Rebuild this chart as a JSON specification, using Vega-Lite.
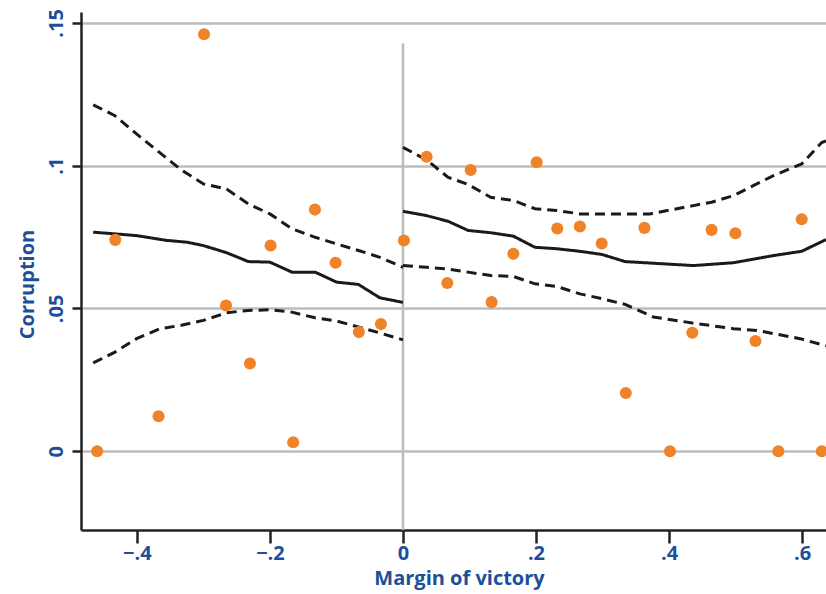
{
  "$schema": "https://vega.github.io/schema/vega-lite/v6.json",
  "width": 745,
  "height": 518,
  "autosize": "none",
  "padding": {"left": 81, "top": 12, "right": 0, "bottom": 64},
  "background": "white",
  "config": {
    "view": {"stroke": null},
    "font": "Open Sans"
  },
  "datasets": {
    "pts": [
      {"margin": -0.4597, "corruption": 0.0},
      {"margin": -0.4325, "corruption": 0.0740},
      {"margin": -0.3674, "corruption": 0.0122},
      {"margin": -0.299, "corruption": 0.146},
      {"margin": -0.266, "corruption": 0.0510},
      {"margin": -0.230, "corruption": 0.0307},
      {"margin": -0.199, "corruption": 0.0720},
      {"margin": -0.165, "corruption": 0.0031},
      {"margin": -0.1323, "corruption": 0.0846},
      {"margin": -0.1012, "corruption": 0.0660},
      {"margin": -0.0662, "corruption": 0.0417},
      {"margin": -0.0331, "corruption": 0.0445},
      {"margin": 0.0015, "corruption": 0.0738},
      {"margin": 0.0356, "corruption": 0.1031},
      {"margin": 0.0667, "corruption": 0.0589},
      {"margin": 0.1018, "corruption": 0.0985},
      {"margin": 0.1333, "corruption": 0.0522},
      {"margin": 0.166, "corruption": 0.0691},
      {"margin": 0.201, "corruption": 0.1012},
      {"margin": 0.232, "corruption": 0.0780},
      {"margin": 0.266, "corruption": 0.0787},
      {"margin": 0.2988, "corruption": 0.0727},
      {"margin": 0.335, "corruption": 0.0204},
      {"margin": 0.363, "corruption": 0.0782},
      {"margin": 0.4015, "corruption": 0.0},
      {"margin": 0.435, "corruption": 0.0415},
      {"margin": 0.464, "corruption": 0.0775},
      {"margin": 0.4998, "corruption": 0.0763},
      {"margin": 0.530, "corruption": 0.0386},
      {"margin": 0.5644, "corruption": 0.0},
      {"margin": 0.5995, "corruption": 0.0812},
      {"margin": 0.6296, "corruption": 0.0}
    ],
    "lines": [
      {"series": "fitL", "kind": "fit", "margin": -0.4657, "value": 0.0767},
      {"series": "fitL", "kind": "fit", "margin": -0.4005, "value": 0.0755},
      {"series": "fitL", "kind": "fit", "margin": -0.355, "value": 0.0738},
      {"series": "fitL", "kind": "fit", "margin": -0.325, "value": 0.0732},
      {"series": "fitL", "kind": "fit", "margin": -0.300, "value": 0.0720},
      {"series": "fitL", "kind": "fit", "margin": -0.265, "value": 0.0695},
      {"series": "fitL", "kind": "fit", "margin": -0.2326, "value": 0.0664},
      {"series": "fitL", "kind": "fit", "margin": -0.200, "value": 0.0662},
      {"series": "fitL", "kind": "fit", "margin": -0.167, "value": 0.0627},
      {"series": "fitL", "kind": "fit", "margin": -0.132, "value": 0.0627},
      {"series": "fitL", "kind": "fit", "margin": -0.0997, "value": 0.0592},
      {"series": "fitL", "kind": "fit", "margin": -0.067, "value": 0.0584},
      {"series": "fitL", "kind": "fit", "margin": -0.0346, "value": 0.0537},
      {"series": "fitL", "kind": "fit", "margin": 0.0, "value": 0.0521},

      {"series": "upL", "kind": "ci", "margin": -0.4657, "value": 0.1213},
      {"series": "upL", "kind": "ci", "margin": -0.433, "value": 0.1175},
      {"series": "upL", "kind": "ci", "margin": -0.4005, "value": 0.1111},
      {"series": "upL", "kind": "ci", "margin": -0.335, "value": 0.0988},
      {"series": "upL", "kind": "ci", "margin": -0.300, "value": 0.0936},
      {"series": "upL", "kind": "ci", "margin": -0.265, "value": 0.0918},
      {"series": "upL", "kind": "ci", "margin": -0.2326, "value": 0.0866},
      {"series": "upL", "kind": "ci", "margin": -0.200, "value": 0.0831},
      {"series": "upL", "kind": "ci", "margin": -0.167, "value": 0.0779},
      {"series": "upL", "kind": "ci", "margin": -0.132, "value": 0.0749},
      {"series": "upL", "kind": "ci", "margin": -0.0997, "value": 0.0726},
      {"series": "upL", "kind": "ci", "margin": -0.067, "value": 0.0703},
      {"series": "upL", "kind": "ci", "margin": -0.0346, "value": 0.0679},
      {"series": "upL", "kind": "ci", "margin": 0.0, "value": 0.0644},

      {"series": "loL", "kind": "ci", "margin": -0.4657, "value": 0.0309},
      {"series": "loL", "kind": "ci", "margin": -0.433, "value": 0.0347},
      {"series": "loL", "kind": "ci", "margin": -0.4005, "value": 0.0394},
      {"series": "loL", "kind": "ci", "margin": -0.365, "value": 0.0429},
      {"series": "loL", "kind": "ci", "margin": -0.333, "value": 0.0441},
      {"series": "loL", "kind": "ci", "margin": -0.300, "value": 0.0458},
      {"series": "loL", "kind": "ci", "margin": -0.265, "value": 0.0485},
      {"series": "loL", "kind": "ci", "margin": -0.2326, "value": 0.0493},
      {"series": "loL", "kind": "ci", "margin": -0.200, "value": 0.0495},
      {"series": "loL", "kind": "ci", "margin": -0.167, "value": 0.0487},
      {"series": "loL", "kind": "ci", "margin": -0.132, "value": 0.0467},
      {"series": "loL", "kind": "ci", "margin": -0.0997, "value": 0.0456},
      {"series": "loL", "kind": "ci", "margin": -0.067, "value": 0.0435},
      {"series": "loL", "kind": "ci", "margin": -0.0346, "value": 0.0414},
      {"series": "loL", "kind": "ci", "margin": 0.0, "value": 0.0390},

      {"series": "fitR", "kind": "fit", "margin": 0.0, "value": 0.0840},
      {"series": "fitR", "kind": "fit", "margin": 0.0356, "value": 0.0825},
      {"series": "fitR", "kind": "fit", "margin": 0.068, "value": 0.0805},
      {"series": "fitR", "kind": "fit", "margin": 0.098, "value": 0.0773},
      {"series": "fitR", "kind": "fit", "margin": 0.132, "value": 0.0765},
      {"series": "fitR", "kind": "fit", "margin": 0.166, "value": 0.0753},
      {"series": "fitR", "kind": "fit", "margin": 0.1985, "value": 0.0714},
      {"series": "fitR", "kind": "fit", "margin": 0.231, "value": 0.0709},
      {"series": "fitR", "kind": "fit", "margin": 0.266, "value": 0.0700},
      {"series": "fitR", "kind": "fit", "margin": 0.299, "value": 0.0689},
      {"series": "fitR", "kind": "fit", "margin": 0.334, "value": 0.0664},
      {"series": "fitR", "kind": "fit", "margin": 0.4366, "value": 0.0650},
      {"series": "fitR", "kind": "fit", "margin": 0.497, "value": 0.0660},
      {"series": "fitR", "kind": "fit", "margin": 0.557, "value": 0.0685},
      {"series": "fitR", "kind": "fit", "margin": 0.5995, "value": 0.0700},
      {"series": "fitR", "kind": "fit", "margin": 0.636, "value": 0.0741},

      {"series": "upR", "kind": "ci", "margin": 0.0, "value": 0.1064},
      {"series": "upR", "kind": "ci", "margin": 0.0356, "value": 0.1020},
      {"series": "upR", "kind": "ci", "margin": 0.068, "value": 0.0959},
      {"series": "upR", "kind": "ci", "margin": 0.098, "value": 0.0934},
      {"series": "upR", "kind": "ci", "margin": 0.132, "value": 0.0889},
      {"series": "upR", "kind": "ci", "margin": 0.166, "value": 0.0878},
      {"series": "upR", "kind": "ci", "margin": 0.1985, "value": 0.0849},
      {"series": "upR", "kind": "ci", "margin": 0.231, "value": 0.0843},
      {"series": "upR", "kind": "ci", "margin": 0.266, "value": 0.0831},
      {"series": "upR", "kind": "ci", "margin": 0.299, "value": 0.0831},
      {"series": "upR", "kind": "ci", "margin": 0.371, "value": 0.0831},
      {"series": "upR", "kind": "ci", "margin": 0.4366, "value": 0.0860},
      {"series": "upR", "kind": "ci", "margin": 0.464, "value": 0.0872},
      {"series": "upR", "kind": "ci", "margin": 0.497, "value": 0.0895},
      {"series": "upR", "kind": "ci", "margin": 0.557, "value": 0.0965},
      {"series": "upR", "kind": "ci", "margin": 0.5995, "value": 0.1006},
      {"series": "upR", "kind": "ci", "margin": 0.6296, "value": 0.1081},
      {"series": "upR", "kind": "ci", "margin": 0.636, "value": 0.1087},

      {"series": "loR", "kind": "ci", "margin": 0.0, "value": 0.0650},
      {"series": "loR", "kind": "ci", "margin": 0.0356, "value": 0.0644},
      {"series": "loR", "kind": "ci", "margin": 0.068, "value": 0.0638},
      {"series": "loR", "kind": "ci", "margin": 0.098, "value": 0.0627},
      {"series": "loR", "kind": "ci", "margin": 0.132, "value": 0.0615},
      {"series": "loR", "kind": "ci", "margin": 0.166, "value": 0.0612},
      {"series": "loR", "kind": "ci", "margin": 0.1985, "value": 0.0586},
      {"series": "loR", "kind": "ci", "margin": 0.231, "value": 0.0577},
      {"series": "loR", "kind": "ci", "margin": 0.266, "value": 0.0551},
      {"series": "loR", "kind": "ci", "margin": 0.299, "value": 0.0534},
      {"series": "loR", "kind": "ci", "margin": 0.334, "value": 0.0514},
      {"series": "loR", "kind": "ci", "margin": 0.3765, "value": 0.0470},
      {"series": "loR", "kind": "ci", "margin": 0.435, "value": 0.0449},
      {"series": "loR", "kind": "ci", "margin": 0.497, "value": 0.0429},
      {"series": "loR", "kind": "ci", "margin": 0.532, "value": 0.0423},
      {"series": "loR", "kind": "ci", "margin": 0.597, "value": 0.0394},
      {"series": "loR", "kind": "ci", "margin": 0.636, "value": 0.0369}
    ],
    "cutoff": [
      {"margin": 0.0, "top": 0.1428, "bottom": -0.0276}
    ]
  },
  "layer": [
    {
      "data": {"name": "cutoff"},
      "mark": {"type": "rule", "color": "#bcbcbc", "strokeWidth": 2.5},
      "encoding": {
        "x": {
          "field": "margin", "type": "quantitative",
          "scale": {"domain": [-0.484, 0.636], "nice": false, "zero": false},
          "axis": {
            "values": [-0.4, -0.2, 0, 0.2, 0.4, 0.6],
            "labelExpr": "datum.value == 0 ? '0' : replace(format(datum.value, '.1f'), '0.', '.')",
            "title": "Margin of victory",
            "grid": false,
            "domainColor": "#222222",
            "domainWidth": 2.5,
            "tickColor": "#222222",
            "tickWidth": 2.5,
            "tickSize": 13,
            "labelFont": "Open Sans",
            "labelFontSize": 20,
            "labelFontWeight": "bold",
            "labelColor": "#1d4f99",
            "labelPadding": 0,
            "labelFlush": false,
            "titleFont": "Open Sans",
            "titleFontSize": 20,
            "titleFontWeight": "bold",
            "titleColor": "#1d4f99",
            "titlePadding": 5,
            "titleX": 378
          }
        },
        "y": {
          "field": "top", "type": "quantitative",
          "scale": {"domain": [-0.0276, 0.1538], "nice": false, "zero": false},
          "axis": {
            "values": [0, 0.05, 0.1, 0.15],
            "labelExpr": "datum.value == 0 ? '0' : replace(format(datum.value, '.2~f'), '0.', '.')",
            "title": "Corruption",
            "grid": true,
            "gridColor": "#bcbcbc",
            "gridWidth": 2.5,
            "domainColor": "#222222",
            "domainWidth": 2.5,
            "tickColor": "#222222",
            "tickWidth": 2.5,
            "tickSize": 9,
            "labelAngle": -90,
            "labelAlign": "center",
            "labelBaseline": "bottom",
            "labelFont": "Open Sans",
            "labelFontSize": 20,
            "labelFontWeight": "bold",
            "labelColor": "#1d4f99",
            "labelPadding": 6,
            "labelFlush": false,
            "titleFont": "Open Sans",
            "titleFontSize": 20,
            "titleFontWeight": "bold",
            "titleColor": "#1d4f99",
            "titlePadding": 9,
            "titleY": 272
          }
        },
        "y2": {"field": "bottom"}
      }
    },
    {
      "data": {"name": "lines"},
      "mark": {"type": "line", "color": "#1a1a1a", "strokeWidth": 3, "clip": true},
      "encoding": {
        "x": {"field": "margin", "type": "quantitative"},
        "y": {"field": "value", "type": "quantitative"},
        "detail": {"field": "series"},
        "strokeDash": {
          "field": "kind", "type": "nominal",
          "scale": {"domain": ["fit", "ci"], "range": [[1, 0], [10, 6]]},
          "legend": null
        }
      }
    },
    {
      "data": {"name": "pts"},
      "mark": {"type": "circle", "color": "#f08228", "opacity": 1, "size": 145, "clip": true},
      "encoding": {
        "x": {"field": "margin", "type": "quantitative"},
        "y": {"field": "corruption", "type": "quantitative"}
      }
    }
  ]
}
